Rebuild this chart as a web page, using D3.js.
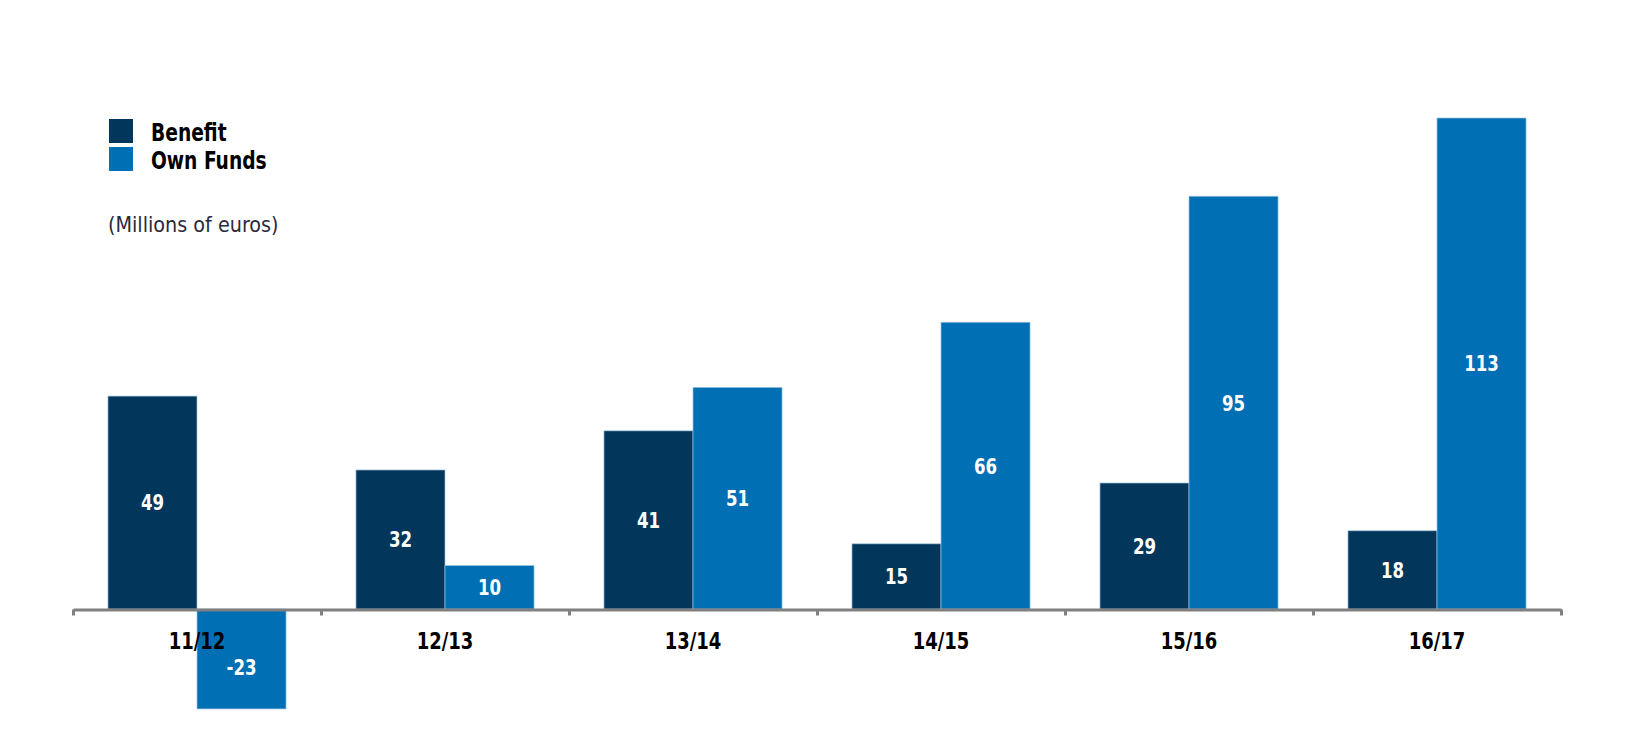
<!DOCTYPE html>
<html>
<head>
<meta charset="utf-8">
<script src="https://cdn.jsdelivr.net/npm/d3@7"></script>
<style>
  html, body { margin: 0; padding: 0; background: #fff; }
  svg { display: block; }
</style>
</head>
<body>
<svg id="chart" width="1639" height="755"></svg>
<script>
const categories = ["11/12", "12/13", "13/14", "14/15", "15/16", "16/17"];
const seriesNames = ["Benefit", "Own Funds"];
const benefit = [49, 32, 41, 15, 29, 18];
const ownFunds = [-23, 10, 51, 66, 95, 113];
const colors = ["#02375B", "#006FB4"];
const unitLabel = "(Millions of euros)";

const svg = d3.select("#chart");
const FONT = '"DejaVu Sans Condensed", "Liberation Sans Narrow", sans-serif';

const x0 = d3.scaleBand().domain(categories).range([73, 1561]).paddingInner(0.282).paddingOuter(0.141);
const x1 = d3.scaleBand().domain(seriesNames).range([0, x0.bandwidth()]);
const y = d3.scaleLinear().domain([0, 113]).range([609, 118]);
const color = d3.scaleOrdinal().domain(seriesNames).range(colors);

const data = categories.map((c, i) => ({
  cat: c,
  values: [
    { key: "Benefit", v: benefit[i] },
    { key: "Own Funds", v: ownFunds[i] }
  ]
}));

// bars
const groups = svg.append("g").selectAll("g").data(data).join("g")
  .attr("transform", d => `translate(${x0(d.cat)},0)`);

groups.selectAll("rect").data(d => d.values).join("rect")
  .attr("x", d => x1(d.key))
  .attr("width", x1.bandwidth())
  .attr("y", d => y(Math.max(0, d.v)))
  .attr("height", d => Math.abs(y(d.v) - y(0)))
  .attr("fill", d => color(d.key))
  .attr("stroke", "#9fc4e2")
  .attr("stroke-width", 0.7);

groups.selectAll("text.val").data(d => d.values).join("text")
  .attr("class", "val")
  .attr("transform", d => `translate(${x1(d.key) + x1.bandwidth() / 2},${y(d.v / 2) + (d.v < 0 ? 8 : 0)}) scale(0.84,1)`)
  .attr("dy", "0.36em")
  .attr("text-anchor", "middle")
  .attr("fill", "#fff")
  .style("font-family", FONT)
  .style("font-weight", "bold")
  .style("font-size", "22px")
  .text(d => d.v);

// axis
const step = x0.step();
const offset = (step - x0.bandwidth()) / 2;
const bounds = categories.map(c => x0(c) - offset).concat([x0(categories[categories.length - 1]) + x0.bandwidth() + offset]);

const axisScale = d3.scaleLinear().domain([0, categories.length]).range([bounds[0], bounds[bounds.length - 1]]);
const axisG = svg.append("g").attr("transform", `translate(0,${y(0) + 0.5})`);
axisG.call(d3.axisBottom(axisScale).tickValues(d3.range(categories.length + 1)).tickSize(6).tickSizeOuter(0).tickFormat(""));
axisG.select(".domain").attr("stroke", "#808080").attr("stroke-width", 3);
axisG.selectAll(".tick line").attr("stroke", "#808080").attr("stroke-width", 3);

// category labels
svg.append("g").selectAll("text").data(categories).join("text")
  .attr("transform", d => `translate(${x0(d) + x0.bandwidth() / 2},641) scale(0.85,1)`)
  .attr("dy", "0.36em")
  .attr("text-anchor", "middle")
  .attr("fill", "#000")
  .style("font-family", FONT)
  .style("font-weight", "bold")
  .style("font-size", "23.5px")
  .text(d => d);

// legend
const legend = svg.append("g");
seriesNames.forEach((s, i) => {
  legend.append("rect")
    .attr("x", 109).attr("y", 119 + i * 28)
    .attr("width", 24).attr("height", 24)
    .attr("fill", color(s));
  legend.append("text")
    .attr("transform", `translate(151,${141 + i * 27.5}) scale(0.83,1)`)
    .attr("fill", "#000")
    .style("font-family", FONT)
    .style("font-weight", "bold")
    .style("font-size", "25px")
    .text(s);
});

svg.append("text")
  .attr("transform", "translate(108,232) scale(0.97,1)")
  .attr("fill", "#2a2a3a")
  .style("font-family", FONT)
  .style("font-size", "22px")
  .text(unitLabel);
</script>
</body>
</html>
